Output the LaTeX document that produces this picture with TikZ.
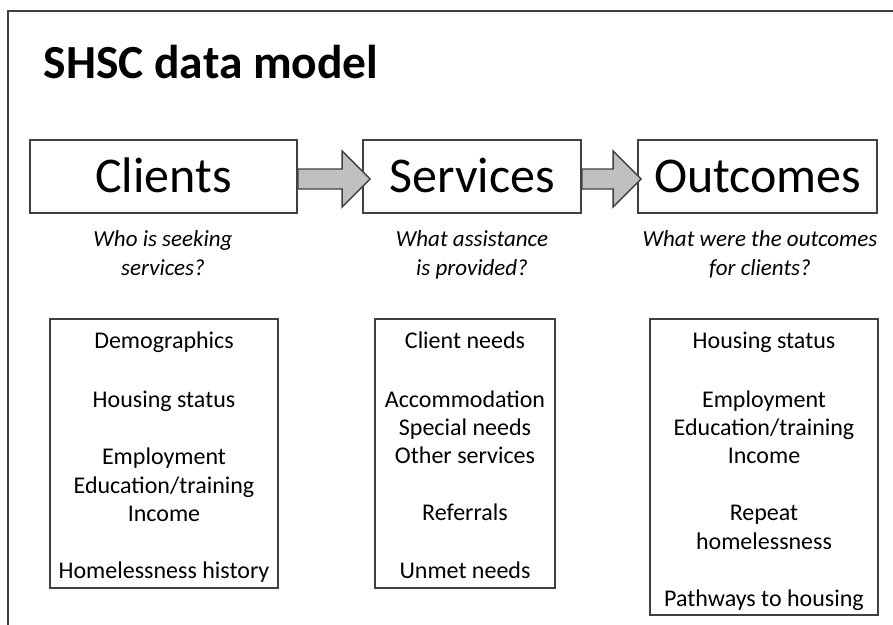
\documentclass[tikz,border=0pt]{standalone}
\usepackage{fontspec}
\setmainfont{Carlito}
\usetikzlibrary{calc}
\definecolor{edge}{HTML}{404040}
\definecolor{arrowfill}{HTML}{C0C0C0}
\newcommand{\blockarr}[2]{%
  \draw[blockarrow] ($(#1)+(0,-10)$) -- ($(#2)+(-28,-10)$) -- ($(#2)+(-28,-28)$) -- (#2)
    -- ($(#2)+(-28,28)$) -- ($(#2)+(-28,10)$) -- ($(#1)+(0,10)$) -- cycle;}
\begin{document}
\begin{tikzpicture}[x=1pt,y=-1pt,
  headbox/.style={draw=edge, line width=1.8pt, fill=white, minimum height=73pt,
    inner sep=0pt, text height=31pt, text depth=0pt, font=\fontsize{50}{60}\selectfont},
  listbox/.style={draw=edge, line width=1.3pt, fill=white, inner sep=0pt},
  listline/.style={anchor=base, inner sep=0pt, font=\fontsize{24}{28.75}\selectfont},
  question/.style={anchor=base, inner sep=0pt, font=\fontsize{23}{28.75}\selectfont\itshape},
  blockarrow/.style={draw=edge, line width=1.3pt, fill=arrowfill, line join=miter}]
\useasboundingbox (0,0) rectangle (893,624);
\clip (0,0) rectangle (893,624);
\draw[edge, line width=1.5pt] (8,11) rectangle (910,640);

\node[anchor=base west, inner sep=0pt, font=\fontsize{47.5}{57}\selectfont\bfseries] (title) at (43.5,78.5) {SHSC data model};

\node[headbox, minimum width=267pt] (clients) at (163.5,176.5) {Clients};
\node[headbox, minimum width=218pt] (services) at (472,176.5) {Services};
\node[headbox, minimum width=239pt] (outcomes) at (757.5,176.5) {Outcomes};

\coordinate (t1) at ($(clients.east)+(0,2.5)$);
\coordinate (h1) at ($(services.west)+(8,2.5)$);
\coordinate (t2) at ($(services.east)+(0,2.5)$);
\coordinate (h2) at ($(outcomes.west)+(4,2.5)$);
\blockarr{t1}{h1}
\blockarr{t2}{h2}

\node[question] (q1a) at (163,246) {Who is seeking};
\node[question] (q1b) at (163,275) {services?};
\node[question] (q2a) at (472,246) {What assistance};
\node[question] (q2b) at (472,275) {is provided?};
\node[question] (q3a) at (760,246) {What were the outcomes};
\node[question] (q3b) at (760,275) {for clients?};

\node[listbox, minimum width=228pt, minimum height=269pt] (clist) at (164,453.5) {};
\node[listbox, minimum width=180pt, minimum height=269pt] (slist) at (465,453.5) {};
\node[listbox, minimum width=228pt, minimum height=296pt] (olist) at (764,467) {};

\foreach \y/\t [count=\i] in {348/Demographics, 407/Housing status, 464/Employment,
    493/{Education/training}, 521/Income, 578/Homelessness history}
  \node[listline] (c\i) at (clist.center |- 0,\y) {\t};
\foreach \y/\t [count=\i] in {348/Client needs, 407/Accommodation, 435/Special needs,
    463/Other services, 520/Referrals, 578/Unmet needs}
  \node[listline] (s\i) at (slist.center |- 0,\y) {\t};
\foreach \y/\t [count=\i] in {348/Housing status, 407/Employment, 435/{Education/training},
    463/Income, 520/Repeat, 549/homelessness, 606/Pathways to housing}
  \node[listline] (o\i) at (olist.center |- 0,\y) {\t};
\end{tikzpicture}
\end{document}
